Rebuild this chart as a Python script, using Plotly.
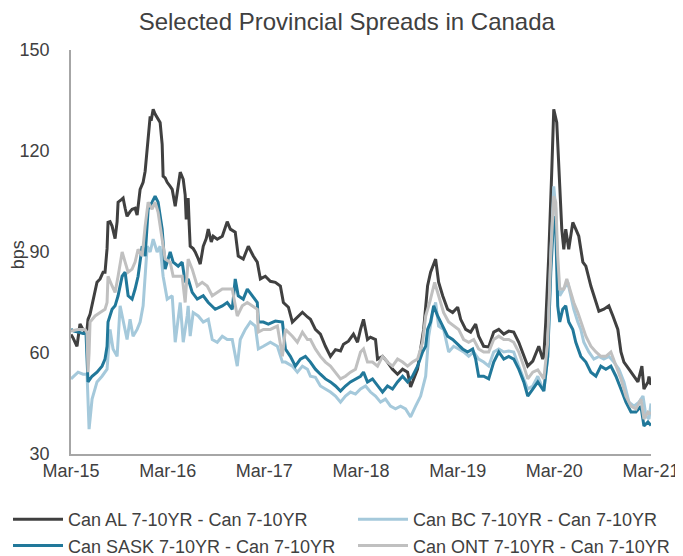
import plotly.graph_objects as go

# ---------------- data (decimal years, bps) ----------------
series_names = [
    "Can AL 7-10YR - Can 7-10YR",
    "Can BC 7-10YR - Can 7-10YR",
    "Can SASK 7-10YR - Can 7-10YR",
    "Can ONT 7-10YR - Can 7-10YR",
]
tick_vals = [2015.17, 2016.17, 2017.17, 2018.17, 2019.17, 2020.17, 2021.17]
tick_text = ["Mar-15", "Mar-16", "Mar-17", "Mar-18", "Mar-19", "Mar-20", "Mar-21"]
y_ticks = [30, 60, 90, 120, 150]

al_t = [
    2015.170, 2015.191, 2015.232, 2015.263, 2015.294, 2015.315, 2015.336, 2015.346, 2015.367, 2015.388,
    2015.419, 2015.439, 2015.471, 2015.502, 2015.522, 2015.533, 2015.543, 2015.553, 2015.574, 2015.595,
    2015.626, 2015.647, 2015.657, 2015.688, 2015.709, 2015.730, 2015.750, 2015.781, 2015.802, 2015.833,
    2015.854, 2015.885, 2015.916, 2015.937, 2015.958, 2015.978, 2015.989, 2015.999, 2016.020, 2016.040,
    2016.061, 2016.092, 2016.113, 2016.123, 2016.144, 2016.165, 2016.196, 2016.217, 2016.248, 2016.268,
    2016.300, 2016.331, 2016.351, 2016.362, 2016.372, 2016.382, 2016.393, 2016.403, 2016.434, 2016.455,
    2016.486, 2016.507, 2016.538, 2016.569, 2016.590, 2016.621, 2016.641, 2016.683, 2016.735, 2016.766,
    2016.786, 2016.818, 2016.869, 2016.900, 2016.952, 2017.004, 2017.056, 2017.097, 2017.129, 2017.180,
    2017.232, 2017.284, 2017.336, 2017.367, 2017.419, 2017.460, 2017.512, 2017.564, 2017.616, 2017.647,
    2017.698, 2017.750, 2017.802, 2017.854, 2017.906, 2017.958, 2017.989, 2018.040, 2018.092, 2018.134,
    2018.165, 2018.196, 2018.237, 2018.268, 2018.320, 2018.341, 2018.393, 2018.444, 2018.496, 2018.548,
    2018.600, 2018.652, 2018.683, 2018.714, 2018.755, 2018.787, 2018.818, 2018.859, 2018.890, 2018.942,
    2018.973, 2019.015, 2019.066, 2019.118, 2019.170, 2019.201, 2019.253, 2019.304, 2019.356, 2019.387,
    2019.439, 2019.491, 2019.543, 2019.595, 2019.647, 2019.698, 2019.750, 2019.802, 2019.854, 2019.895,
    2019.947, 2020.009, 2020.050, 2020.061, 2020.081, 2020.112, 2020.143, 2020.164, 2020.195, 2020.216,
    2020.247, 2020.268, 2020.288, 2020.319, 2020.361, 2020.392, 2020.423, 2020.465, 2020.496, 2020.548,
    2020.600, 2020.631, 2020.682, 2020.734, 2020.776, 2020.827, 2020.859, 2020.890, 2020.942, 2020.994,
    2021.035, 2021.076, 2021.097, 2021.139, 2021.149, 2021.170,
]
al_v = [
    65.5, 64.5, 62, 68.6, 67, 66.5, 67, 70, 71.5, 74,
    78, 81, 82, 84, 84, 87, 91, 98.8, 99, 97.7,
    94, 99, 104.8, 105.5, 106, 103, 100.6, 102, 102.7, 103,
    101, 108.6, 110.7, 114, 120.5, 126, 130.3, 129, 132.4, 131,
    130, 128.5, 122, 112.5, 112, 110.7, 109.5, 108.6, 103.6, 108,
    113.7, 111.6, 107, 99.7, 104, 106, 98, 91.7, 91, 90,
    88, 86.4, 91.7, 94, 96.8, 93, 94.7, 93.8, 94.7, 97,
    99, 96.8, 95.9, 88.8, 87.9, 91.7, 88.8, 87, 82, 82.8,
    81.3, 81, 79.9, 75, 73.6, 69.2, 70.7, 72.1, 70.7, 70,
    67, 65.6, 62, 59, 61, 60.6, 62.6, 63.5, 65.6, 63.2,
    67, 70, 64, 64.7, 64, 58.2, 59, 57.3, 55.2, 53.7,
    55.2, 54.3, 49.9, 52.3, 55.2, 61.2, 67, 80, 84, 87.9,
    81, 77, 73, 72, 73.6, 70, 67, 66.2, 68.6, 65,
    62, 61.8, 66.2, 67, 65.6, 66.5, 66.2, 63.2, 59, 56.1,
    57.6, 62, 58.2, 59, 69, 88.8, 113.7, 132.4, 128.5, 113.7,
    96.8, 90.8, 96.8, 90.8, 98.8, 96.8, 94.7, 87, 85.8, 79.9,
    75, 72.4, 73, 74, 71, 67, 60.3, 57.3, 55.2, 53.1,
    51.4, 56.1, 49.3, 51.4, 53, 50.5,
]

bc_t = [
    2015.170, 2015.211, 2015.243, 2015.294, 2015.336, 2015.357, 2015.388, 2015.439, 2015.491, 2015.543,
    2015.574, 2015.605, 2015.647, 2015.678, 2015.709, 2015.750, 2015.781, 2015.812, 2015.854, 2015.885,
    2015.916, 2015.958, 2015.989, 2016.020, 2016.061, 2016.092, 2016.123, 2016.165, 2016.217, 2016.248,
    2016.300, 2016.331, 2016.372, 2016.382, 2016.403, 2016.434, 2016.486, 2016.538, 2016.590, 2016.631,
    2016.683, 2016.735, 2016.786, 2016.838, 2016.890, 2016.921, 2016.973, 2017.025, 2017.077, 2017.108,
    2017.160, 2017.232, 2017.305, 2017.357, 2017.388, 2017.460, 2017.512, 2017.564, 2017.616, 2017.647,
    2017.698, 2017.750, 2017.802, 2017.854, 2017.906, 2017.958, 2018.009, 2018.061, 2018.113, 2018.165,
    2018.217, 2018.268, 2018.320, 2018.372, 2018.423, 2018.475, 2018.527, 2018.579, 2018.631, 2018.683,
    2018.735, 2018.787, 2018.839, 2018.870, 2018.911, 2018.942, 2018.973, 2019.025, 2019.077, 2019.128,
    2019.180, 2019.232, 2019.284, 2019.336, 2019.387, 2019.439, 2019.491, 2019.543, 2019.595, 2019.647,
    2019.698, 2019.750, 2019.802, 2019.854, 2019.895, 2019.947, 2019.999, 2020.061, 2020.102, 2020.133,
    2020.164, 2020.185, 2020.205, 2020.226, 2020.268, 2020.309, 2020.340, 2020.371, 2020.413, 2020.444,
    2020.475, 2020.527, 2020.579, 2020.631, 2020.682, 2020.734, 2020.786, 2020.838, 2020.890, 2020.942,
    2020.994, 2021.046, 2021.087, 2021.118, 2021.149, 2021.170,
]
bc_v = [
    52.3, 53.5, 54.3, 53.7, 53.7, 37.4, 46.3, 51.4, 53.1, 55.2,
    67, 61.2, 59, 74, 69.2, 64, 70, 65, 67, 69.2,
    74, 91.7, 90, 93.8, 90, 91.7, 82.8, 76, 77, 63.2,
    75, 63.2, 71, 74, 65, 72, 71, 69.2, 70, 64,
    63.2, 65, 64, 64, 56.1, 64, 67, 69.2, 68, 61.2,
    62, 63.2, 62, 57.3, 57.3, 56.1, 54.3, 56.1, 55.2, 53.1,
    52.8, 50.2, 49.3, 48.4, 47.2, 45.4, 47.2, 48.4, 47.8, 49.3,
    50.2, 48.4, 47.2, 45.4, 46.3, 44.2, 43.4, 44.2, 43.4, 41,
    44.2, 47.2, 53.1, 65, 72, 75, 68, 67, 60.3, 62,
    61.2, 60.3, 59, 60.3, 58.2, 57.3, 56.1, 60.3, 61.2, 60.3,
    60.6, 60.3, 56.1, 52.3, 49.3, 50.2, 53.1, 48.7, 59, 88.8,
    109.5, 102.7, 82.8, 77, 79, 81, 77, 73, 69.2, 67,
    63.2, 60.3, 58.2, 59, 58.2, 59, 57.3, 55.2, 51.4, 45.4,
    44.2, 45.4, 47.2, 41.3, 40.4, 45,
]

sask_t = [
    2015.170, 2015.201, 2015.243, 2015.294, 2015.325, 2015.346, 2015.388, 2015.439, 2015.491, 2015.522,
    2015.543, 2015.553, 2015.595, 2015.626, 2015.657, 2015.699, 2015.730, 2015.761, 2015.802, 2015.833,
    2015.864, 2015.906, 2015.937, 2015.968, 2016.009, 2016.040, 2016.071, 2016.113, 2016.144, 2016.196,
    2016.227, 2016.279, 2016.320, 2016.351, 2016.382, 2016.424, 2016.476, 2016.538, 2016.590, 2016.662,
    2016.735, 2016.786, 2016.838, 2016.869, 2016.900, 2016.952, 2016.994, 2017.046, 2017.097, 2017.108,
    2017.160, 2017.211, 2017.284, 2017.357, 2017.388, 2017.439, 2017.491, 2017.543, 2017.595, 2017.647,
    2017.698, 2017.750, 2017.802, 2017.854, 2017.906, 2017.958, 2018.009, 2018.061, 2018.113, 2018.165,
    2018.196, 2018.237, 2018.289, 2018.341, 2018.393, 2018.444, 2018.496, 2018.548, 2018.600, 2018.652,
    2018.703, 2018.755, 2018.807, 2018.839, 2018.859, 2018.890, 2018.922, 2018.963, 2019.015, 2019.066,
    2019.118, 2019.170, 2019.221, 2019.273, 2019.325, 2019.356, 2019.387, 2019.439, 2019.491, 2019.543,
    2019.595, 2019.647, 2019.698, 2019.750, 2019.802, 2019.854, 2019.895, 2019.947, 2019.999, 2020.061,
    2020.102, 2020.133, 2020.164, 2020.185, 2020.205, 2020.226, 2020.257, 2020.288, 2020.319, 2020.361,
    2020.392, 2020.444, 2020.496, 2020.548, 2020.600, 2020.651, 2020.703, 2020.755, 2020.807, 2020.859,
    2020.911, 2020.963, 2021.014, 2021.066, 2021.097, 2021.139, 2021.170,
]
sask_v = [
    67, 66.5, 66.2, 65.8, 66, 51.4, 53.1, 54.3, 56.1, 58.2,
    62, 69.2, 73, 74, 77, 82.8, 84, 77, 76, 79,
    82.8, 91.7, 88.8, 102.7, 104.8, 106.6, 104.8, 96.8, 84.9, 90,
    87, 85.8, 87, 81, 82, 78, 76, 77, 75, 73,
    74, 75, 73, 82, 77, 76, 79, 77, 75, 69.2,
    69.2, 68.6, 69.5, 69.2, 61.2, 59, 56.1, 58.2, 59, 57.3,
    55.2, 53.7, 52.3, 51.4, 50.2, 48.7, 50.2, 51.4, 52.3, 53.1,
    54.3, 51.4, 52.3, 50.2, 48.4, 50.2, 49.3, 51.4, 53.1, 51.4,
    53.1, 56.1, 60.3, 62, 67, 69.2, 74, 71, 68, 65,
    64, 62.6, 61.2, 60.3, 61.2, 58.2, 53.1, 53.1, 52.3, 57.3,
    60.3, 58.2, 59, 58.2, 55.2, 51.4, 47.2, 49.3, 51.4, 48.7,
    59, 84, 100.6, 96.8, 74, 69.2, 73, 74, 69.2, 67,
    63.2, 59, 57.3, 54.3, 53.1, 56.1, 55.2, 56.1, 53.1, 49.3,
    45.4, 42.5, 42.5, 44.2, 38.3, 39.5, 38.5,
]

ont_t = [
    2015.170, 2015.243, 2015.315, 2015.336, 2015.346, 2015.357, 2015.367, 2015.419, 2015.471, 2015.522,
    2015.543, 2015.553, 2015.595, 2015.626, 2015.657, 2015.699, 2015.730, 2015.761, 2015.802, 2015.833,
    2015.864, 2015.906, 2015.937, 2015.968, 2016.009, 2016.040, 2016.071, 2016.113, 2016.144, 2016.196,
    2016.227, 2016.279, 2016.320, 2016.351, 2016.382, 2016.424, 2016.476, 2016.527, 2016.579, 2016.631,
    2016.683, 2016.735, 2016.786, 2016.838, 2016.890, 2016.942, 2016.994, 2017.046, 2017.097, 2017.108,
    2017.160, 2017.232, 2017.305, 2017.357, 2017.388, 2017.460, 2017.512, 2017.564, 2017.616, 2017.647,
    2017.698, 2017.750, 2017.802, 2017.854, 2017.906, 2017.958, 2018.009, 2018.061, 2018.113, 2018.165,
    2018.196, 2018.237, 2018.289, 2018.341, 2018.393, 2018.444, 2018.496, 2018.548, 2018.600, 2018.652,
    2018.703, 2018.755, 2018.807, 2018.839, 2018.880, 2018.932, 2018.973, 2019.025, 2019.077, 2019.128,
    2019.180, 2019.232, 2019.284, 2019.336, 2019.387, 2019.439, 2019.491, 2019.543, 2019.595, 2019.647,
    2019.698, 2019.750, 2019.802, 2019.854, 2019.895, 2019.947, 2019.999, 2020.061, 2020.102, 2020.133,
    2020.164, 2020.185, 2020.205, 2020.226, 2020.268, 2020.299, 2020.340, 2020.371, 2020.413, 2020.444,
    2020.496, 2020.548, 2020.600, 2020.651, 2020.703, 2020.755, 2020.807, 2020.859, 2020.911, 2020.963,
    2021.014, 2021.066, 2021.097, 2021.139, 2021.170,
]
ont_v = [
    66.5, 67, 67, 66, 54.3, 60, 69.2, 71, 72, 73,
    75, 82.8, 79.9, 78, 82.8, 90, 87, 84, 84.9, 87,
    90.8, 88.8, 97.7, 104.8, 102.7, 104.8, 101.8, 93.8, 87.9, 87,
    82.8, 82.8, 82.8, 75, 87.9, 84.9, 79.9, 81, 79.9, 77,
    78, 79, 79, 79, 71, 74, 75, 74, 73, 66.2,
    67, 67, 68, 59, 67, 65, 63.2, 66.2, 64, 64,
    61.2, 59, 57.3, 56.1, 54.3, 52.3, 53.1, 54.3, 55.2, 60.3,
    61.2, 57.3, 57.3, 56.1, 59, 57.3, 56.1, 58.2, 57.3, 56.1,
    57.3, 58.2, 63.2, 71, 75, 81, 77, 72, 69.2, 68,
    67, 64, 63.2, 64, 61.2, 60.3, 60.3, 64, 65, 64,
    64, 63.2, 60.3, 56.1, 52.3, 54.3, 55, 52.3, 63.2, 88.8,
    106.6, 104.8, 88.8, 79, 79, 82, 78, 75, 72, 69.2,
    65, 62, 60.3, 59, 59, 60.3, 56.1, 52.3, 47.2, 44.2,
    43.4, 46.3, 40.4, 42.5, 42,
]

# ---------------- figure ----------------
colors = ["#404040", "#a5c9db", "#21789a", "#c0c0c0"]
series = [(al_t, al_v), (bc_t, bc_v), (sask_t, sask_v), (ont_t, ont_v)]
legend_ids = ["legend", "legend2", "legend", "legend2"]

fig = go.Figure()
for name, (t, v), c, lg in zip(series_names, series, colors, legend_ids):
    fig.add_trace(go.Scatter(
        x=t, y=v, mode="lines", name=name, legend=lg,
        line=dict(color=c, width=3), hoverinfo="skip",
    ))

axis_col = "#a6a6a6"
font_family = "Liberation Sans, Arial, sans-serif"
leg_common = dict(
    xref="container", yref="container", xanchor="left", yanchor="top",
    orientation="h", itemwidth=50, entrywidth=300, entrywidthmode="pixels",
    font=dict(family=font_family, size=18, color="#404040"),
    bgcolor="rgba(0,0,0,0)",
)

fig.update_layout(
    width=683, height=556,
    margin=dict(l=63, r=40, t=42, b=110),
    paper_bgcolor="white", plot_bgcolor="white",
    font=dict(family=font_family, size=18, color="#404040"),
    title=dict(
        text="Selected Provincial Spreads in Canada",
        font=dict(family=font_family, size=24, color="#404040"),
        x=0.496, xanchor="center", xref="container",
        y=0.976, yanchor="middle", yref="container",
    ),
    xaxis=dict(
        type="linear", automargin=False,
        range=[2015.17, 2021.17], tickvals=tick_vals, ticktext=tick_text,
        showline=True, linecolor=axis_col, linewidth=1.5, showgrid=False,
        zeroline=False, ticks="", tickfont=dict(size=18, color="#404040"),
    ),
    yaxis=dict(
        type="linear", automargin=False,
        range=[30, 150], tickvals=y_ticks, showline=True, linecolor=axis_col,
        linewidth=1.5, showgrid=False, zeroline=False, ticks="outside",
        ticklen=16, tickcolor="rgba(0,0,0,0)",
        tickfont=dict(size=18, color="#404040"),
    ),
    annotations=[dict(
        text="bps", textangle=-90, showarrow=False,
        xref="paper", yref="paper", x=-0.091, y=0.4926,
        xanchor="center", yanchor="middle",
        font=dict(family=font_family, size=18, color="#404040"),
    )],
    legend=dict(leg_common, x=0.0, y=1 - 493 / 556),
    legend2=dict(leg_common, x=345 / 683, y=1 - 493 / 556),
    showlegend=True,
)

fig.write_html("out.html")
